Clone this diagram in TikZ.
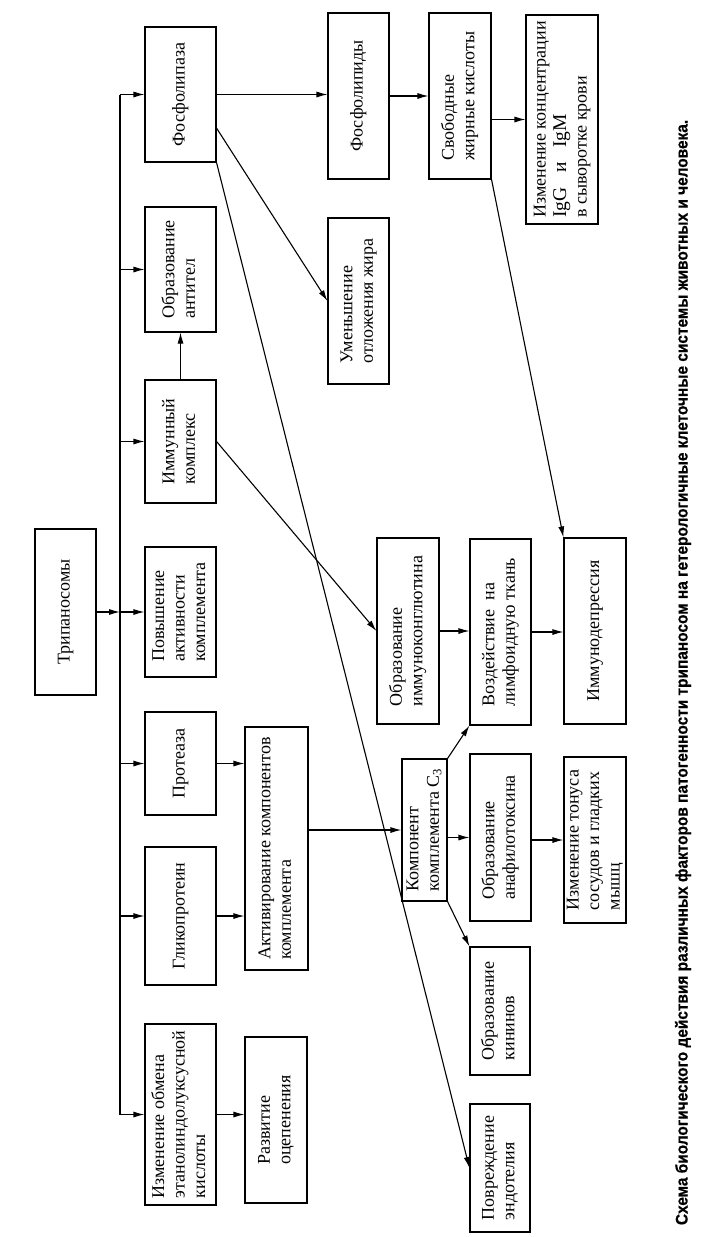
\documentclass[tikz,border=0pt]{standalone}
\usepackage{fontspec}
\setmainfont{Liberation Serif}
\newfontfamily\capfont[FakeBold=0.6]{Liberation Sans Bold}
\usetikzlibrary{arrows.meta}
\newcommand\rt[1]{\rotatebox{90}{\begin{tabular}{@{}l@{}}#1\end{tabular}}}
\begin{document}
\begin{tikzpicture}[x=1pt,y=-1pt,
  box/.style={draw, line width=1.1pt, inner sep=0pt, font=\fontsize{18}{20.5}\selectfont},
  arr/.style={line width=1.1pt, -{Latex[length=11pt,width=6pt]}},
  ln/.style={line width=1.1pt}]
\useasboundingbox (0,0) rectangle (720,1237);
% nodes
\node[box, minimum width=61pt, minimum height=166pt] (tryp) at (65.5,612) {\rt{Трипаносомы}};
\node[box, minimum width=71pt, minimum height=135pt] (phos) at (180.5,94.5) {\rt{Фосфолипаза}};
\node[box, minimum width=71pt, minimum height=125pt] (antitel) at (180.5,269.5) {\rt{Образование\\антител}};
\node[box, minimum width=71pt, minimum height=123pt] (imm) at (180.5,441.5) {\rt{Иммунный\\комплекс}};
\node[box, minimum width=71pt, minimum height=130pt] (povysh) at (180.5,612) {\rt{Повышение\\активности\\комплемента}};
\node[box, minimum width=71pt, minimum height=103pt] (prot) at (180.5,763.5) {\rt{Протеаза}};
\node[box, minimum width=71pt, minimum height=138pt] (glyco) at (180.5,916) {\rt{Гликопротеин}};
\node[box, minimum width=71pt, minimum height=181pt] (izm) at (180.5,1114.5) {\rt{Изменение обмена\\этанолиндолуксусной\\кислоты}};
\node[box, minimum width=63pt, minimum height=243pt] (activ) at (276.5,848.5) {\rt{Активирование компонентов\\комплемента}};
\node[box, minimum width=62pt, minimum height=166pt] (razv) at (276,1120) {\rt{Развитие\\оцепенения}};
\node[box, minimum width=61pt, minimum height=166pt] (phlip) at (358.5,96) {\rt{Фосфолипиды}};
\node[box, minimum width=61pt, minimum height=166pt] (umen) at (358.5,301) {\rt{Уменьшение\\отложения жира}};
\node[box, minimum width=62pt, minimum height=186pt] (konglut) at (408,631) {\rt{Образование\\иммуноконглютина}};
\node[box, minimum width=45pt, minimum height=142pt] (komp) at (424.5,830) {\rt{Компонент\\комплемента C\textsubscript{3}}};
\node[box, minimum width=62pt, minimum height=166pt] (svob) at (460,96) {\rt{Свободные\\жирные кислоты}};
\node[box, minimum width=61pt, minimum height=186pt] (vozd) at (500.5,632) {\rt{Воздействие~ на\\лимфоидную ткань}};
\node[box, minimum width=61pt, minimum height=167pt] (anaf) at (500.5,837.5) {\rt{Образование\\анафилотоксина}};
\node[box, minimum width=60pt, minimum height=128pt] (kinin) at (500,1011) {\rt{Образование\\кининов}};
\node[box, minimum width=60pt, minimum height=128pt] (povrezh) at (500,1168) {\rt{Повреждение\\эндотелия}};
\node[box, minimum width=72pt, minimum height=209pt] (izmconc) at (562,119.5) {\rt{Изменение концентрации\\{\fontsize{19.5}{20.5}\selectfont IgG~~ и~~ IgM}\\в сыворотке крови}};
\node[box, minimum width=62pt, minimum height=186pt] (immdep) at (595,631) {\rt{Иммунодепрессия}};
\node[box, minimum width=62pt, minimum height=166pt] (tonus) at (595,840) {\rt{Изменение тонуса\\сосудов и гладких\\мышц}};
% caption
\node[inner sep=0pt] (cap) at (683,672.5) {\rotatebox{90}{\resizebox{1105pt}{12.5pt}{\capfont\fontsize{16}{20}\selectfont Схема биологического действия различных факторов патогенности трипаносом на гетерологичные клеточные системы животных и человека.}}};
% bus
\coordinate (bus) at (120,600);
\draw[ln] (phos.west -| bus) -- (izm.west -| bus);
\draw[arr] (tryp.east) -- (tryp.east -| bus);
\foreach \n in {phos,antitel,imm,povysh,prot,glyco,izm}
  \draw[arr] (\n.west -| bus) -- (\n.west);
% connectors
\draw[arr] (phos.east) -- (phos.east -| phlip.west);
\draw[arr] (phlip.east) -- (phlip.east -| svob.west);
\draw[arr] (svob.east |- izmconc.west) -- (izmconc.west);
\draw[arr] (phos.-43) -- (umen.west);
\draw[arr] (phos.south east) -- (povrezh.west);
\draw[arr] (svob.south east) -- (immdep.north west);
\draw[arr] (imm.north) -- (antitel.south);
\draw[arr] (imm.east) -- (konglut.west);
\draw[arr] (konglut.east) -- (konglut.east -| vozd.west);
\draw[arr] (vozd.east) -- (vozd.east -| immdep.west);
\draw[arr] (prot.east) -- (prot.east -| activ.west);
\draw[arr] (glyco.east) -- (glyco.east -| activ.west);
\draw[arr] (izm.east) -- (izm.east -| razv.west);
\draw[arr] (activ.east |- komp.west) -- (komp.west);
\draw[arr] (komp.north east) -- (vozd.south west);
\draw[arr] (komp.east |- anaf.west) -- (anaf.west);
\draw[arr] (anaf.east |- tonus.west) -- (tonus.west);
\draw[arr] (komp.south east) -- (kinin.north west);
\end{tikzpicture}
\end{document}
